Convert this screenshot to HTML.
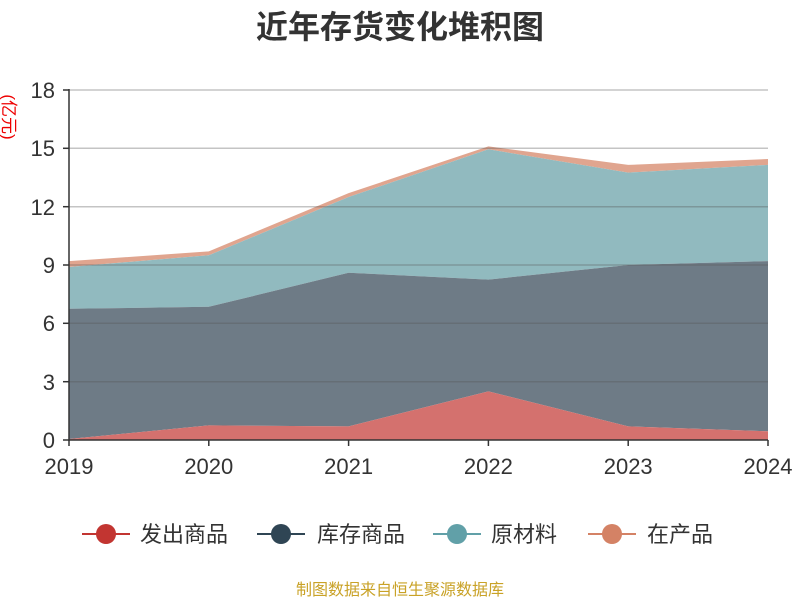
<!DOCTYPE html>
<html><head><meta charset="utf-8"><style>
body{margin:0;background:#fff;}
svg text{font-family:"Liberation Sans","Noto Sans CJK SC",sans-serif;}
</style></head><body>
<svg width="800" height="600" viewBox="0 0 800 600" xmlns="http://www.w3.org/2000/svg">
<rect width="800" height="600" fill="#fff"/>
<text x="400" y="38" text-anchor="middle" font-size="32" font-weight="bold" fill="#333">近年存货变化堆积图</text>
<text transform="translate(3,117) rotate(90)" text-anchor="middle" font-size="17" fill="#e00">(亿元)</text>
<polygon fill="#e0a58f" points="69,261.1 208.8,251.4 348.6,193.1 488.4,146.4 628.2,164.9 768,159.0 768,164.9 628.2,172.6 488.4,149.3 348.6,197.0 208.8,255.3 69,267.0"/>
<polygon fill="#91babf" points="69,267.0 208.8,255.3 348.6,197.0 488.4,149.3 628.2,172.6 768,164.9 768,261.1 628.2,265.0 488.4,279.6 348.6,272.8 208.8,306.8 69,308.8"/>
<polygon fill="#6e7b86" points="69,308.8 208.8,306.8 348.6,272.8 488.4,279.6 628.2,265.0 768,261.1 768,431.3 628.2,426.4 488.4,391.4 348.6,426.4 208.8,425.4 69,439.0"/>
<polygon fill="#d4716e" points="69,439.0 208.8,425.4 348.6,426.4 488.4,391.4 628.2,426.4 768,431.3 768,440 69,440"/>
<g stroke="#555" stroke-opacity="0.35" stroke-width="1.5">
<line x1="69" y1="90" x2="768" y2="90"/><line x1="69" y1="148.3" x2="768" y2="148.3"/>
<line x1="69" y1="206.7" x2="768" y2="206.7"/><line x1="69" y1="265" x2="768" y2="265"/>
<line x1="69" y1="323.3" x2="768" y2="323.3"/><line x1="69" y1="381.7" x2="768" y2="381.7"/>
</g>
<g stroke="#333" stroke-width="1.5">
<line x1="69" y1="89" x2="69" y2="441"/><line x1="69" y1="440" x2="768" y2="440"/>
<line x1="63" y1="90" x2="69" y2="90"/><line x1="63" y1="148.3" x2="69" y2="148.3"/><line x1="63" y1="206.7" x2="69" y2="206.7"/><line x1="63" y1="265" x2="69" y2="265"/><line x1="63" y1="323.3" x2="69" y2="323.3"/><line x1="63" y1="381.7" x2="69" y2="381.7"/><line x1="63" y1="440" x2="69" y2="440"/>
<line x1="69" y1="440" x2="69" y2="446"/><line x1="208.8" y1="440" x2="208.8" y2="446"/><line x1="348.6" y1="440" x2="348.6" y2="446"/><line x1="488.4" y1="440" x2="488.4" y2="446"/><line x1="628.2" y1="440" x2="628.2" y2="446"/><line x1="768" y1="440" x2="768" y2="446"/>
</g>
<g font-size="22" fill="#333" text-anchor="end">
<text x="55" y="98">18</text><text x="55" y="156">15</text><text x="55" y="215">12</text><text x="55" y="273">9</text><text x="55" y="331">6</text><text x="55" y="390">3</text><text x="55" y="448">0</text>
</g>
<g font-size="22" fill="#333" text-anchor="middle">
<text x="69" y="474">2019</text><text x="208.8" y="474">2020</text><text x="348.6" y="474">2021</text><text x="488.4" y="474">2022</text><text x="628.2" y="474">2023</text><text x="768" y="474">2024</text>
</g>
<g font-size="22" fill="#333">
<line x1="82" y1="534" x2="130" y2="534" stroke="#c23531" stroke-width="2"/><circle cx="106" cy="534" r="10" fill="#c23531"/><text x="140" y="542">发出商品</text>
<line x1="257" y1="534" x2="305" y2="534" stroke="#2f4554" stroke-width="2"/><circle cx="281" cy="534" r="10" fill="#2f4554"/><text x="317" y="542">库存商品</text>
<line x1="433" y1="534" x2="481" y2="534" stroke="#61a0a8" stroke-width="2"/><circle cx="457" cy="534" r="10" fill="#61a0a8"/><text x="491" y="542">原材料</text>
<line x1="588" y1="534" x2="636" y2="534" stroke="#d48265" stroke-width="2"/><circle cx="612" cy="534" r="10" fill="#d48265"/><text x="647" y="542">在产品</text>
</g>
<text x="400" y="595" text-anchor="middle" font-size="16" fill="#c9a227">制图数据来自恒生聚源数据库</text>
</svg>
</body></html>
